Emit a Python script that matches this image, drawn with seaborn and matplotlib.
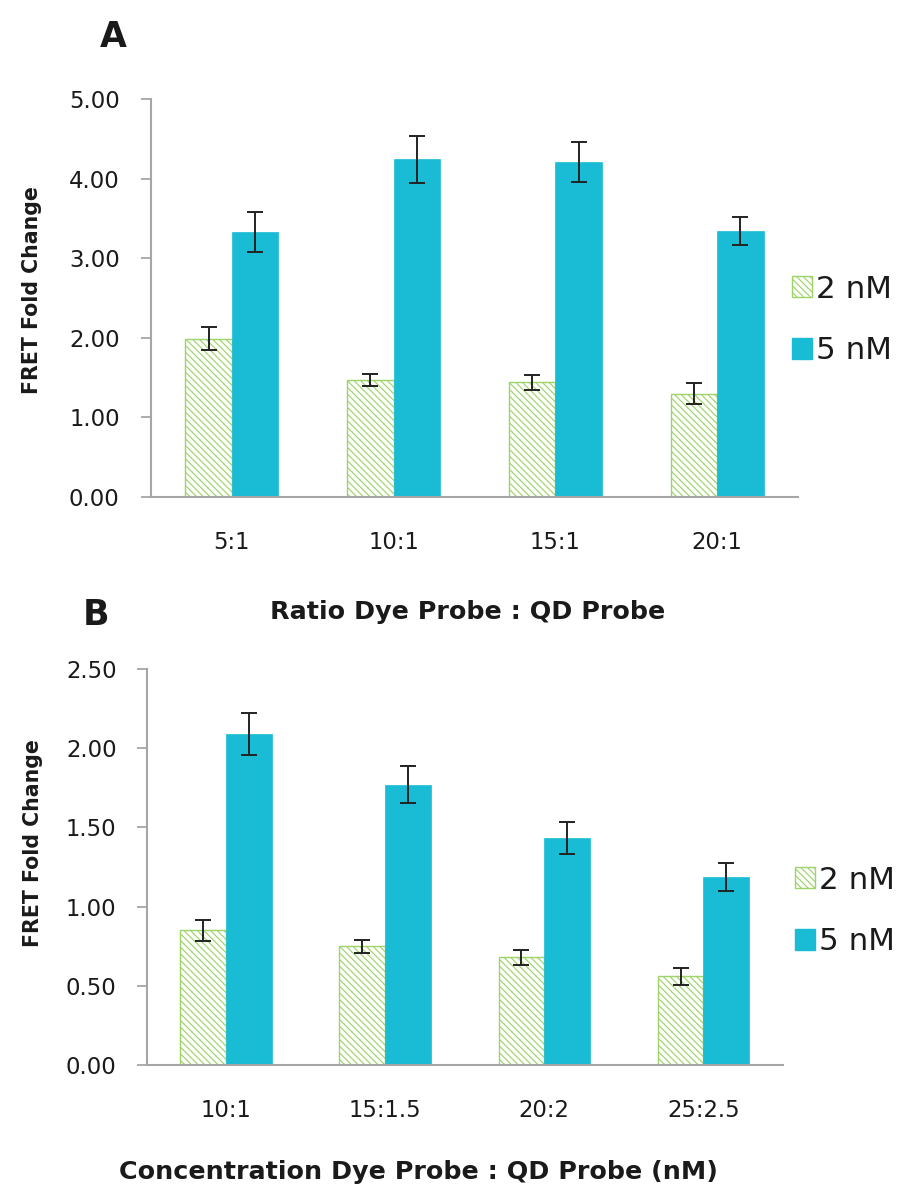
import matplotlib
matplotlib.use("Agg")
import matplotlib.pyplot as plt
import seaborn as sns
import pandas as pd
import numpy as np

# Panel A: ratio of dye probe to QD probe
ratio_labels = ["5:1", "10:1", "15:1", "20:1"]
ratio_2nm = [1.99, 1.47, 1.44, 1.30]
ratio_2nm_err = [0.14, 0.07, 0.09, 0.13]
ratio_5nm = [3.33, 4.24, 4.21, 3.34]
ratio_5nm_err = [0.25, 0.29, 0.25, 0.18]

# Panel B: concentration of dye probe to QD probe (nM)
conc_labels = ["10:1", "15:1.5", "20:2", "25:2.5"]
conc_2nm = [0.85, 0.75, 0.68, 0.56]
conc_2nm_err = [0.065, 0.04, 0.047, 0.055]
conc_5nm = [2.09, 1.77, 1.435, 1.185]
conc_5nm_err = [0.13, 0.115, 0.10, 0.088]

series_names = ["2 nM", "5 nM"]

sns.set_theme(style="white")
plt.rcParams["font.family"] = ["DejaVu Sans"]
plt.rcParams["hatch.linewidth"] = 0.85

CYAN = "#1ABCD5"
GREEN = "#9ED36A"
AXIS_GRAY = "#A6A6A6"
TEXT = "#1A1A1A"
HATCH = "\\\\\\\\\\"

fig = plt.figure(figsize=(9.01, 11.9), dpi=100)
W, H = 901, 1190


def px_axes(left, right, top, bottom):
    return fig.add_axes([left / W, 1 - bottom / H, (right - left) / W, (bottom - top) / H])


def panel(ax, labels, v2, e2, v5, e5, ymax, ystep, xlabel, xlab_pos, ylab_pos,
          leg_pos, ypad):
    df = pd.DataFrame({
        "group": labels * 2,
        "value": list(v2) + list(v5),
        "series": [series_names[0]] * len(labels) + [series_names[1]] * len(labels),
    })
    sns.barplot(data=df, x="group", y="value", hue="series", order=labels,
                hue_order=series_names, palette=[GREEN, CYAN], width=0.575,
                errorbar=None, saturation=1, ax=ax, legend=True)
    n = len(labels)
    bars = ax.patches[:2 * n]
    for i, p in enumerate(bars):
        if i < n:
            p.set_facecolor("white")
            p.set_edgecolor(GREEN)
            p.set_hatch(HATCH)
            p.set_linewidth(1.0)
        else:
            p.set_facecolor(CYAN)
            p.set_edgecolor(CYAN)
            p.set_linewidth(0.5)
    errs = list(e2) + list(e5)
    vals = list(v2) + list(v5)
    xs = [p.get_x() + p.get_width() / 2 for p in bars]
    ax.errorbar(xs, vals, yerr=errs, fmt="none", ecolor="#222222",
                elinewidth=1.4, capsize=5.5, capthick=1.4, zorder=5)

    ax.set_xlim(-0.5, n - 0.5)
    ax.set_ylim(0, ymax)
    yt = np.arange(0, ymax + ystep / 2, ystep)
    ax.set_yticks(yt)
    ax.set_yticklabels([f"{t:.2f}" for t in yt])
    ax.set_xticks(np.arange(-0.5, n, 1.0))
    ax.set_xticklabels([])
    ax.set_xticks(np.arange(n), minor=True)
    ax.set_xticklabels(labels, minor=True)
    ax.tick_params(axis="x", which="major", length=8, width=1.3, color=AXIS_GRAY, direction="out")
    ax.tick_params(axis="x", which="minor", length=0, pad=24.5, labelsize=16.4, labelcolor=TEXT)
    ax.tick_params(axis="y", length=7, width=1.3, color=AXIS_GRAY, direction="out",
                   pad=ypad, labelsize=16.4, labelcolor=TEXT, left=True)
    for s in ["top", "right"]:
        ax.spines[s].set_visible(False)
    for s in ["left", "bottom"]:
        ax.spines[s].set_color(AXIS_GRAY)
        ax.spines[s].set_linewidth(1.5)
    ax.set_xlabel(xlabel, fontsize=18.3, fontweight="bold", color=TEXT)
    ax.xaxis.set_label_coords(*xlab_pos)
    ax.set_ylabel("FRET Fold Change", fontsize=14.8, fontweight="bold", color=TEXT)
    ax.yaxis.set_label_coords(*ylab_pos)

    handles, _ = ax.get_legend_handles_labels()
    ax.get_legend().remove()
    handles[0].set_facecolor("white")
    handles[0].set_edgecolor(GREEN)
    handles[0].set_hatch(HATCH)
    handles[1].set_facecolor(CYAN)
    handles[1].set_edgecolor(CYAN)
    ax.legend(handles, series_names, loc="center left", bbox_to_anchor=leg_pos,
              frameon=False, fontsize=22.3, handlelength=0.65, handleheight=0.65,
              handletextpad=0.13, labelspacing=1.05, borderpad=0, borderaxespad=0,
              labelcolor=TEXT)


ax_a = px_axes(151, 798, 99, 497)
panel(ax_a, ratio_labels, ratio_2nm, ratio_2nm_err, ratio_5nm, ratio_5nm_err,
      5.0, 1.0, "Ratio Dye Probe : QD Probe", (0.49, -0.259), (-0.168, 0.521),
      (0.991, 0.445), 15.5)

ax_b = px_axes(146.5, 783, 669, 1065)
panel(ax_b, conc_labels, conc_2nm, conc_2nm_err, conc_5nm, conc_5nm_err,
      2.5, 0.5, "Concentration Dye Probe : QD Probe (nM)", (0.428, -0.240),
      (-0.163, 0.561), (1.019, 0.389), 14.5)

fig.text(100 / W, 1 - 47 / H, "A", fontsize=25, fontweight="bold", color=TEXT, va="baseline")
fig.text(83 / W, 1 - 625 / H, "B", fontsize=25, fontweight="bold", color=TEXT, va="baseline")

fig.savefig("out.png", dpi=100, facecolor="white")
